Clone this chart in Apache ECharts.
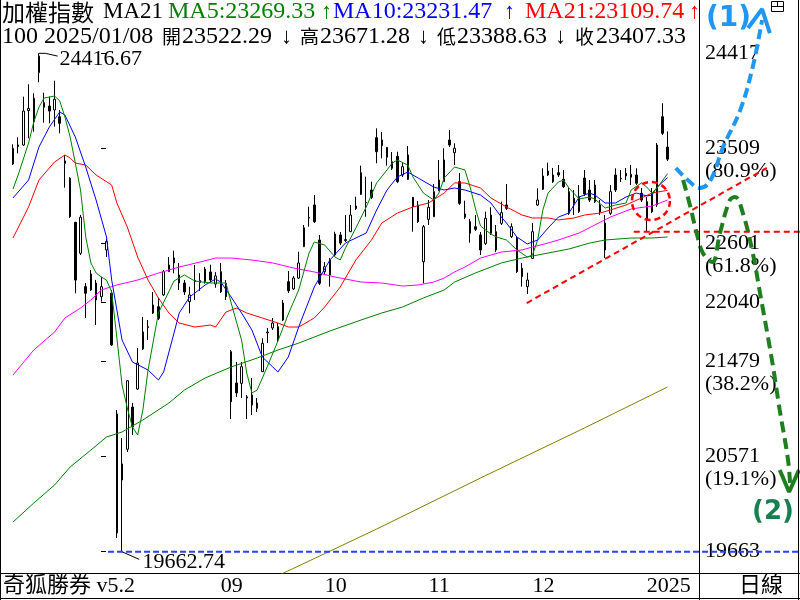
<!DOCTYPE html>
<html>
<head>
<meta charset="utf-8">
<title>加權指數 日線</title>
<script src="https://cdn.jsdelivr.net/npm/echarts@6/dist/echarts.min.js"></script>
<style>
html, body { margin: 0; padding: 0; background: #fff; }
#chart { width: 800px; height: 600px; }
</style>
</head>
<body>
<div id="chart"></div>
<script>
/*** 交易日 ***/
var dates = [
  '07/04','07/05','07/08','07/09','07/10','07/11','07/12','07/15','07/16','07/17','07/18','07/19','07/22','07/23','07/26','07/29','07/30','07/31',
  '08/01','08/02','08/05','08/06','08/07','08/08','08/09','08/12','08/13','08/14','08/15','08/16','08/19','08/20','08/21','08/22','08/23','08/26','08/27','08/28','08/29','08/30',
  '09/02','09/03','09/04','09/05','09/06','09/09','09/10','09/11','09/12','09/13','09/16','09/18','09/19','09/20','09/23','09/24','09/25','09/26','09/27','09/30',
  '10/01','10/04','10/07','10/08','10/09','10/11','10/14','10/15','10/16','10/17','10/18','10/21','10/22','10/23','10/24','10/25','10/28','10/29','10/30',
  '11/01','11/04','11/05','11/06','11/07','11/08','11/11','11/12','11/13','11/14','11/15','11/18','11/19','11/20','11/21','11/22','11/25','11/26','11/27','11/28','11/29',
  '12/02','12/03','12/04','12/05','12/06','12/09','12/10','12/11','12/12','12/13','12/16','12/17','12/18','12/19','12/20','12/23','12/24','12/25','12/26','12/27','12/30','12/31',
  '01/02','01/03','01/06','01/07','01/08'
];

/*** K棒 開 收 低 高 ***/
var openP = [23361,23542,23542,23870,23764,24232,23946,23914,23876,23812,23364,23225,22805,22509,22191,22312,22064,22095,
  22541,22128,20977,20347,20640,21043,21215,21597,21800,21940,22000,22112,22334,22464,22302,22226,22048,22240,22250,22238,22331,22216,
  22334,22223,21571,21272,21269,21130,21158,21081,21380,21750,21797,21809,21873,22238,22169,22273,22572,22845,22970,22636,
  22334,22445,22493,22684,22630,22715,22935,23072,22990,23113,23612,23590,23425,23383,23434,23256,23447,23043,22970,
  22429,22833,22858,23106,23192,23590,23469,23192,22884,22811,22763,22684,22604,22874,22715,22795,22970,22667,22652,22366,22191,
  22461,22970,23120,23294,23256,23278,23215,23097,23034,23049,23227,23113,23001,22970,22798,22891,23256,23220,23272,23234,23256,23081,
  23001,23081,22970,23812,23522.29];
var closeP = [23511,23528,23866,23890,23988,24390,23902,23866,23978,23749,23390,22858,22254,22853,22128,22159,22226,22191,
  22620,21635,19842,20500,21294,20853,21463,21759,21810,22016,21889,22334,22398,22417,22226,22140,22112,22250,22230,22359,22254,22293,
  22143,22095,21094,21177,21428,21140,21062,21031,21651,21758,21844,21682,22035,22152,22273,22417,22753,22850,22811,22223,
  22381,22302,22693,22607,22640,22874,22960,23278,22996,23043,23478,23536,23520,23320,23192,23335,23215,22954,22811,
  22763,22948,23097,23208,23399,23542,23511,22986,22853,22700,22738,22541,22843,22700,22541,22897,22938,22763,22334,22286,22254,
  22715,23017,23246,23256,23192,23256,23144,22891,22986,22906,23075,23017,23160,22903,22541,23097,23113,23225,23246,23263,23177,23017,
  22827,22906,23542,23654,23407.33];
var lowP = [23352,23463,23533,23606,23669,24140,23755,23749,23717,23654,23135,22846,22128,22493,21892,22150,21826,22048,
  22474,21625,19794,19662.74,20614,20776,21206,21587,21682,21930,21873,22102,22331,22318,22159,22111,21937,22064,22150,22220,22230,22180,
  22130,22064,20929,21138,21129,20929,20967,20995,21377,21653,21778,21663,21863,22130,22159,22264,22569,22763,22798,22207,
  22302,22191,22483,22588,22617,22712,22922,23065,22858,23027,23368,23415,23345,23304,23180,23237,23208,22715,22798,
  22223,22779,22855,23103,23189,23523,23351,22970,22836,22610,22722,22493,22588,22684,22522,22779,22922,22655,22321,22191,22121,
  22455,22960,23113,23246,23180,23237,23132,22874,22874,22893,23056,22998,22989,22874,22464,22874,23094,23189,23208,23160,23160,22998,
  22715,22893,22951,23637,23388.63];
var highP = [23549,23616,24003,24121,24035,24416.67,24041,24003,24156,23876,23447,23234,22808,22875,22226,22350,22255,22286,
  22646,22159,21015,20748,21301,21082,21606,21902,21873,22140,22083,22350,22474,22534,22417,22254,22191,22398,22320,22380,22400,22330,
  22417,22254,21587,21472,21472,21158,21320,21129,21699,21797,21892,21844,22064,22340,22293,22524,22779,22954,23065,22684,
  22426,22464,22715,22712,22874,22970,23049,23345,23240,23192,23701,23666,23523,23475,23478,23380,23533,23046,23008,
  22779,23017,23170,23399,23511,23685,23558,23275,23011,22836,22874,22712,22906,22948,22779,23002,23170,22795,22674,22417,22324,
  22798,23129,23320,23373,23323,23351,23304,23132,23113,23160,23304,23208,23208,23017,22874,23160,23320,23304,23323,23351,23320,23132,
  23046,23132,23561,23940,23671.28];

/*** 均線 [K棒序號, 值] ***/
var ma5 = [[0,23122],[1,23256],[3,23561],[4,23761],[5,23904],[6,23990],[8,24009],[9,23962],[10,23809],[11,23618],[12,23370],[13,23113],
  [14,22665],[15,22417],[16,22321],[17,22283],[18,22254],[19,22140],[20,21701],[21,21253],[22,21034],[23,20852],[24,20776],[25,21014],
  [26,21396],[28,21940],[31,22245],[33,22302],[35,22245],[38,22226],[41,22226],[42,22035],[44,21682],[45,21367],[46,21177],[47,21205],
  [49,21434],[51,21673],[53,21930],[55,22159],[57,22512],[58,22617],[60,22588],[62,22474],[63,22445],[64,22560],[66,22750],[68,22951],
  [70,23180],[72,23304],[73,23370],[74,23399],[76,23351],[77,23237],[79,23084],[81,23017],[82,23084],[83,23227],[85,23332],[87,23304],
  [88,23141],[89,22941],[90,22769],[92,22693],[93,22665],[95,22636],[97,22541],[99,22474],[100,22493],[101,22636],[102,22922],[103,23084],
  [105,23189],[106,23208],[107,23132],[109,23027],[111,23046],[112,23027],[114,22941],[116,22970],[118,22989],[119,23113],[121,23180],
  [122,23141],[123,23084],[124,23132],[126,23269.33]];
var ma10 = [[0,23037],[3,23208],[5,23523],[7,23714],[9,23857],[10,23828],[12,23618],[14,23332],[16,23017],[18,22665],[19,22254],[20,21968],
  [21,21682],[23,21472],[26,21396],[28,21301],[29,21377],[31,21749],[32,21940],[34,22092],[37,22207],[39,22264],[40,22235],[42,22092],
  [44,21940],[46,21777],[48,21520],[50,21425],[51,21377],[53,21520],[55,21806],[58,22188],[61,22445],[64,22607],[68,22703],[70,22922],
  [72,23113],[74,23237],[76,23284],[78,23227],[81,23141],[83,23113],[85,23132],[87,23113],[90,23065],[92,22989],[94,22855],[95,22798],
  [97,22665],[99,22598],[101,22636],[103,22750],[105,22855],[107,22893],[109,23046],[111,23084],[112,23065],[114,22989],[116,22989],
  [118,23046],[120,23084],[122,23056],[123,23065],[124,23141],[126,23231.47]];
var ma21 = [[0,22655],[3,22951],[5,23208],[8,23380],[10,23447],[11,23418],[12,23370],[14,23351],[16,23256],[19,23160],[20,22989],[22,22760],
  [24,22474],[26,22254],[28,22083],[30,21940],[32,21844],[35,21806],[38,21825],[39,21806],[41,21949],[43,21987],[45,21940],[48,21892],
  [51,21844],[53,21806],[55,21806],[58,21892],[60,21997],[63,22188],[66,22445],[69,22636],[71,22798],[74,22893],[77,22951],[80,22989],
  [83,23084],[85,23180],[87,23180],[90,23132],[92,23037],[95,22951],[98,22874],[100,22846],[103,22846],[105,22827],[108,22846],[110,22874],
  [113,22893],[115,22922],[118,22970],[121,23037],[123,23084],[126,23109.74]];
var ma60 = [[0,21348],[4,21587],[8,21758],[10,21892],[13,21987],[15,22064],[17,22159],[20,22207],[24,22254],[28,22321],[32,22378],[36,22426],
  [39,22464],[42,22464],[46,22445],[50,22417],[54,22369],[58,22331],[62,22283],[67,22235],[71,22226],[75,22197],[78,22207],[81,22235],
  [83,22273],[85,22331],[87,22378],[90,22464],[94,22521],[98,22541],[100,22569],[103,22607],[105,22636],[109,22703],[112,22779],
  [115,22855],[119,22932],[123,22960],[126,23017]];
var ma120 = [[0,19946],[4,20127],[8,20299],[11,20471],[15,20633],[18,20757],[21,20805],[25,20919],[30,21081],[33,21205],[37,21320],[42,21425],
  [47,21510],[51,21587],[55,21653],[61,21768],[67,21873],[71,21940],[75,21997],[79,22083],[83,22159],[85,22235],[89,22321],[94,22417],
  [98,22464],[103,22512],[107,22550],[111,22607],[114,22636],[119,22655],[123,22655],[126,22665]];
var ma240 = [[48,19364],[70,19879],[90,20366],[110,20843],[126,21234]];

/*** 右側刻度 ***/
var tickValues = [24417, 23509, 22601, 22040, 21479, 20571, 19663];
var tickPct = ['', '(80.9%)', '(61.8%)', '', '(38.2%)', '(19.1%)', ''];

/*** 底部刻度 (K棒序號) ***/
var weekTicks = [30, 35, 40, 45, 50, 54, 59, 60, 66, 71, 76, 80, 85, 90, 95, 100, 105, 110, 115];
var monthTicks = [40, 60, 80, 100, 122];
var monthText = ['09', '10', '11', '12', '2025'];
var yearTick = 122;

/*** 手繪標註 [位置, 值] ***/
var arrow1 = [[129.6,23323],[131.9,23208],[134.2,23132],[136.2,23199],[138.7,23523],[142.0,23876],[144.4,24286],[146.2,24734]];
var arrow1Head = [[143.5,24658],[146.2,24839],[147.7,24610]];
var arrow2 = [[131.0,23208],[132.3,22970],[133.7,22684],[134.8,22512],[136.6,22426],[138.1,22703],[140.0,23017],[141.0,23046],
  [142.5,22893],[144.4,22512],[145.8,22131],[148.1,21491],[149.6,21014],[151.2,20538],[151.6,20299]];
var arrow2Head = [[149.6,20442],[151.4,20232],[153.3,20442]];
var trendLine = [[100.9,22035],[147.1,23323]];
var supportLine = [[121.5,22715],[153.5,22715]];
var lowLine = [[20.3,19662.74],[153.5,19662.74]];
var circleMark = [124.8, 23008];
// 最高、最低點引線
var highLeader = [[7, 24416.67], [8.2, 24416.67], [10.6, 24390]];
var lowLeader = [[23, 19662.74], [26.3, 19590]];

var PAD = 2, SLOTS = 154;
var FONT = '"Liberation Serif", "Noto Sans CJK TC", serif';
var CJK = '"Noto Sans CJK TC", sans-serif';

var cats = [];
for (var i = 0; i < SLOTS; i++) {
  cats.push(dates[i - PAD] || ('p' + i));
}
function inList(list) {
  return function (idx) { return list.indexOf(idx - PAD) >= 0; };
}
function shift(arr) {
  return arr.map(function (p) { return [p[0] + PAD, p[1]]; });
}
function lastVal(arr) { return arr[arr.length - 1][1].toFixed(2); }

var candles = dates.map(function (d, i) {
  return [i + PAD, openP[i], closeP[i], lowP[i], highP[i]];
});
var last = dates.length - 1;

function maLine(name, data, color) {
  return {
    name: name, type: 'line', xAxisIndex: 0, yAxisIndex: 0,
    data: shift(data), symbol: 'none', smooth: false, z: 3,
    lineStyle: { color: color, width: 1 }, silent: true
  };
}
function drawLine(data, color, width, dash, smooth) {
  return {
    type: 'line', xAxisIndex: 3, yAxisIndex: 0, data: data, symbol: 'none',
    smooth: smooth || false, z: 5, silent: true,
    lineStyle: { color: color, width: width, type: dash, cap: 'butt' }
  };
}

/*** 抬頭文字 [文字, x, 顏色, 字型] ***/
var G = '#008000', B = '#0000ff', R = '#ff0000', K = '#000';
var ARROW = 'bold 22px "Liberation Serif", serif';
var head1 = [
  ['加權指數', 2, K, '23px ' + CJK],
  ['MA21', 103, K, '23px ' + FONT],
  ['MA5:' + lastVal(ma5), 168, G, '24px ' + FONT],
  ['↑', 321, G, ARROW],
  ['MA10:' + lastVal(ma10), 333, B, '24px ' + FONT],
  ['↑', 504, B, ARROW],
  ['MA21:' + lastVal(ma21), 525, R, '24px ' + FONT],
  ['↑', 689, R, ARROW]
];
var head2 = [
  ['100 2025/' + dates[last], 2, K, '24px ' + FONT],
  ['開', 162, K, '19px ' + CJK],
  [openP[last].toFixed(2), 182, K, '24px ' + FONT],
  ['↓', 281, K, ARROW],
  ['高', 300, K, '19px ' + CJK],
  [highP[last].toFixed(2), 320, K, '24px ' + FONT],
  ['↓', 418, K, ARROW],
  ['低', 437, K, '19px ' + CJK],
  [lowP[last].toFixed(2), 457, K, '24px ' + FONT],
  ['↓', 555, K, ARROW],
  ['收', 575, K, '19px ' + CJK],
  [closeP[last].toFixed(2), 596, K, '24px ' + FONT]
];
function headText(list, y) {
  return list.map(function (h) {
    return { type: 'text', z: 12, silent: true,
      style: { x: h[1], y: y, text: h[0], font: h[3], fill: h[2], verticalAlign: 'middle' } };
  });
}

var frame = [
  { type: 'line', shape: { x1: 699.5, y1: 0, x2: 699.5, y2: 600 }, style: { stroke: '#000', lineWidth: 1 }, z: 10 },
  { type: 'line', shape: { x1: 0.5, y1: 0, x2: 0.5, y2: 600 }, style: { stroke: '#000', lineWidth: 1 }, z: 10 },
  { type: 'line', shape: { x1: 798.5, y1: 0, x2: 798.5, y2: 600 }, style: { stroke: '#000', lineWidth: 1 }, z: 10 },
  { type: 'line', shape: { x1: 0, y1: 598.5, x2: 800, y2: 598.5 }, style: { stroke: '#000', lineWidth: 1 }, z: 10 },
  { type: 'rect', shape: { x: 771.5, y: 1.5, width: 12, height: 10 }, style: { fill: '#fff', stroke: '#000', lineWidth: 1 }, z: 10 },
  { type: 'line', shape: { x1: 771.5, y1: 6.5, x2: 783.5, y2: 6.5 }, style: { stroke: '#000', lineWidth: 1 }, z: 11 },
  { type: 'line', shape: { x1: 777.5, y1: 1.5, x2: 777.5, y2: 6.5 }, style: { stroke: '#000', lineWidth: 1 }, z: 11 },
  { type: 'rect', shape: { x: 1, y: 574, width: 150, height: 24 }, style: { fill: '#fff' }, z: 9 },
  { type: 'text', z: 10, style: { x: 3, y: 586, text: '奇狐勝券 v5.2', font: '22px ' + FONT, fill: '#000', verticalAlign: 'middle' } },
  { type: 'text', z: 10, style: { x: 739, y: 586, text: '日線', font: '22px ' + FONT, fill: '#000', verticalAlign: 'middle' } },
  { type: 'text', z: 10, style: { x: 706, y: 19, text: '(1)', font: 'bold 28px "DejaVu Sans", sans-serif', fill: '#2196f3', verticalAlign: 'middle' } },
  { type: 'text', z: 10, style: { x: 752, y: 512, text: '(2)', font: 'bold 26px "DejaVu Sans", sans-serif', fill: '#1a7f50', verticalAlign: 'middle' } }
];

var option = {
  animation: false,
  backgroundColor: '#fff',
  grid: { left: 0, right: 0, top: 0, bottom: 27 },
  xAxis: [{
    type: 'category', data: cats, position: 'bottom',
    axisLine: { lineStyle: { color: '#000', width: 1 } },
    axisTick: { interval: inList(weekTicks), alignWithLabel: true, length: 4, lineStyle: { color: '#000' } },
    axisLabel: {
      interval: inList(monthTicks), align: 'left', margin: 2,
      fontFamily: FONT, fontSize: 22, color: '#000', lineHeight: 22,
      formatter: function (v, idx) { return monthText[monthTicks.indexOf(idx - PAD)] || ''; }
    },
    splitLine: { show: false }
  }, {
    type: 'category', data: cats, position: 'bottom',
    axisLine: { show: false },
    axisTick: { interval: inList(monthTicks), alignWithLabel: true, length: 7, lineStyle: { color: '#000' } },
    axisLabel: { show: false }, splitLine: { show: false }
  }, {
    type: 'category', data: cats, position: 'bottom',
    axisLine: { show: false },
    axisTick: { interval: inList([yearTick]), alignWithLabel: true, length: 26, lineStyle: { color: '#000' } },
    axisLabel: { show: false }, splitLine: { show: false }
  }, {
    type: 'value', min: -0.5, max: SLOTS - 0.5, show: false
  }],
  yAxis: [{
    type: 'value', position: 'right', offset: -101,
    min: 19460, max: 24925, scale: true,
    axisLine: { show: false },
    splitLine: { show: false },
    axisTick: { show: true, customValues: tickValues, length: 5, inside: false, lineStyle: { color: '#000' } },
    axisLabel: {
      customValues: tickValues, margin: 6, align: 'left', verticalAlign: 'middle',
      fontFamily: FONT, fontSize: 22, lineHeight: 23, color: '#000',
      formatter: function (v) {
        var k = tickValues.indexOf(Math.round(v));
        if (k < 0) return '';
        return '\n' + tickValues[k] + '\n' + tickPct[k];
      }
    }
  }],
  series: [{
    name: 'K', type: 'candlestick', xAxisIndex: 0, yAxisIndex: 0,
    data: candles, encode: { x: 0, y: [1, 2, 3, 4] },
    barWidth: 2, z: 2, silent: true,
    itemStyle: { color: '#fff', color0: '#000', borderColor: '#000', borderColor0: '#000', borderWidth: 1 },
    markPoint: {
      silent: true,
      data: [{
        coord: [5 + PAD, highP[5]], symbol: 'circle', symbolSize: 1, itemStyle: { color: 'rgba(0,0,0,0)' },
        label: { show: true, position: 'right', distance: 0, fontFamily: FONT, fontSize: 22, color: '#000',
          formatter: highP[5].toFixed(2), offset: [20, 6] }
      }, {
        coord: [21 + PAD, lowP[21]], symbol: 'circle', symbolSize: 1, itemStyle: { color: 'rgba(0,0,0,0)' },
        label: { show: true, position: 'right', distance: 0, fontFamily: FONT, fontSize: 22, color: '#000',
          formatter: lowP[21].toFixed(2), offset: [20, 10] }
      }]
    }
  },
    maLine('MA240', ma240, '#808000'),
    maLine('MA120', ma120, '#008000'),
    maLine('MA60', ma60, '#ff00ff'),
    maLine('MA21', ma21, '#ff0000'),
    maLine('MA10', ma10, '#0000ff'),
    maLine('MA5', ma5, '#008000'),
    drawLine(highLeader, '#000', 1, 'solid'),
    drawLine(lowLeader, '#000', 1, 'solid'),
    drawLine(lowLine, '#2244ff', 2, [6, 3]),
    drawLine(trendLine, '#ff0000', 2, [6, 4]),
    drawLine(supportLine, '#ff0000', 2, [6, 4]),
    drawLine(arrow1, '#2196f3', 4, [10, 5], 0.4),
    drawLine(arrow1Head, '#2196f3', 4, 'solid'),
    drawLine(arrow2, '#1e7f1e', 4, [11, 6], 0.4),
    drawLine(arrow2Head, '#1e7f1e', 4, 'solid'),
    {
      // 紅色虛線圈
      type: 'scatter', xAxisIndex: 3, yAxisIndex: 0, silent: true, z: 5,
      data: [circleMark], symbol: 'circle', symbolSize: 38,
      itemStyle: { color: 'rgba(0,0,0,0)', opacity: 1, borderColor: '#ff0000', borderWidth: 2.5, borderType: [6, 4] }
    }
  ],
  graphic: frame.concat(headText(head1, 12), headText(head2, 37))
};

var myChart = echarts.init(document.getElementById('chart'));
myChart.setOption(option);
</script>
</body>
</html>
